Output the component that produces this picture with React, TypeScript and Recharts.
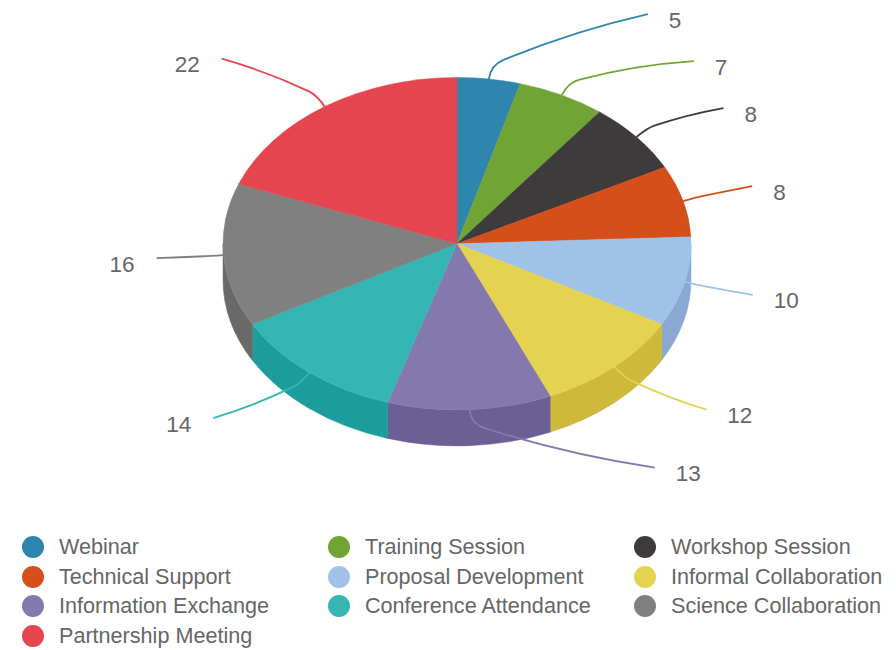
import React from "react";
import { PieChart, Pie, Legend } from "recharts";

const categories = [
  "Webinar", "Training Session", "Workshop Session", "Technical Support", "Proposal Development",
  "Informal Collaboration", "Information Exchange", "Conference Attendance", "Science Collaboration", "Partnership Meeting",
];
const values = [5, 7, 8, 8, 10, 12, 13, 14, 16, 22];
const topColors = ["#2E85AE", "#70A535", "#3D3B3C", "#D54F1B", "#A0C2E8", "#E3D350", "#8479AE", "#35B6B4", "#808080", "#E5454F"];
const wallColors = ["#28749A", "#62912E", "#353334", "#BA4517", "#8AA9D2", "#CDB93A", "#6A6096", "#1C9D9C", "#696969", "#C83C45"];
// how far each label's leader line reaches from the rim of its slice
const leaderReach: number[][] = [
  [159, -65], [132, -34], [87, -29], [69, -15], [68, 13], [92, 43], [185, 58], [-96, 45.5], [-67, 3], [-103, -48],
];

const CX = 457;
const CY = 243.7;
const RX = 234;
const RY = 166.2;
const DEPTH = 36;
const FONT = "'Liberation Sans', Arial, sans-serif";

const tableData = categories.map((name, i) => ({
  name,
  value: values[i],
  fill: topColors[i],
  wall: wallColors[i],
}));

const rad = (d: number) => (d * Math.PI) / 180;

function SliceShape(props: any) {
  const { cx, cy, outerRadius, startAngle, endAngle, fill, payload } = props;
  const rx = outerRadius;
  const ry = (outerRadius * RY) / RX;
  const pt = (a: number, dy = 0) => [cx + rx * Math.cos(rad(a)), cy - ry * Math.sin(rad(a)) + dy];
  const [sx, sy] = pt(startAngle);
  const [ex, ey] = pt(endAngle);
  const large = Math.abs(startAngle - endAngle) > 180 ? 1 : 0;
  const top = `M${cx},${cy} L${sx},${sy} A${rx},${ry} 0 ${large} 1 ${ex},${ey} Z`;

  let wallPath = "";
  const hi = Math.min(startAngle, 0);
  const lo = Math.max(endAngle, -180);
  if (hi > lo) {
    const [ax, ay] = pt(hi);
    const [bx, by] = pt(lo);
    const [cx2, cy2] = pt(lo, DEPTH);
    const [dx, dy] = pt(hi, DEPTH);
    wallPath = `M${ax},${ay} A${rx},${ry} 0 0 1 ${bx},${by} L${cx2},${cy2} A${rx},${ry} 0 0 0 ${dx},${dy} Z`;
  }
  const wall = payload?.wall ?? props.wall ?? fill;
  return (
    <g>
      {wallPath ? <path d={wallPath} fill={wall} stroke={wall} strokeWidth={0.5} /> : null}
      <path d={top} fill={fill} stroke={fill} strokeWidth={0.5} />
    </g>
  );
}

function LeaderLabel(props: any) {
  const { cx, cy, outerRadius, midAngle, index, value } = props;
  const fill = topColors[index];
  const rx = outerRadius;
  const ry = (outerRadius * RY) / RX;
  const c = Math.cos(rad(midAngle));
  const s = Math.sin(rad(midAngle));
  const x0 = cx + rx * c;
  const y0 = cy - ry * s;
  const [ox, oy] = leaderReach[index];
  const x3 = x0 + ox;
  const y3 = y0 + oy;
  const ex = x0 + c * 14;
  const ey = y0 - s * 14;
  const px = ex + (x3 - ex) * 0.08 + c * 1.2;
  const py = ey + (y3 - ey) * 0.08 - s * 1.2;
  const len = Math.hypot(x3 - px, y3 - py);
  const dl = Math.hypot(px - ex, py - ey) || 1;
  const qx = px + ((px - ex) / dl) * len * 0.5;
  const qy = py + ((py - ey) / dl) * len * 0.5;
  const d = `M${x0},${y0} Q${ex},${ey} ${px},${py} Q${qx},${qy} ${x3},${y3}`;
  const right = ox > 0;
  return (
    <g>
      <path d={d} fill="none" stroke={fill} strokeWidth={1.8} />
      <text
        x={x3 + (right ? 21 : -22)}
        y={y3 + 6}
        textAnchor={right ? "start" : "end"}
        dominantBaseline="central"
        fill="#666666"
        fontSize={22.5}
        fontFamily={FONT}
      >
        {value}
      </text>
    </g>
  );
}

function LegendGrid(props: any) {
  const items = props.payload ?? [];
  return (
    <div
      style={{
        display: "grid",
        gridTemplateColumns: "306px 306px 262px",
        gridAutoRows: "29.6px",
        paddingLeft: 22,
        fontFamily: FONT,
        fontSize: 21.6,
        color: "#666666",
      }}
    >
      {items.map((it: any) => (
        <div key={it.value} style={{ display: "flex", alignItems: "center", whiteSpace: "nowrap" }}>
          <span
            style={{
              width: 22,
              height: 22,
              borderRadius: 11,
              background: it.color,
              display: "inline-block",
              marginRight: 15,
              flex: "none",
            }}
          />
          {it.value}
        </div>
      ))}
    </div>
  );
}

export default function App() {
  return (
    <div style={{ position: "absolute", left: 0, top: 0, width: 896, height: 650, background: "#fff", overflow: "hidden" }}>
      <PieChart width={896} height={650} margin={{ top: 0, right: 0, bottom: 0, left: 0 }}>
        <Pie
          data={tableData}
          dataKey="value"
          nameKey="name"
          cx={CX}
          cy={CY}
          outerRadius={RX}
          startAngle={90}
          endAngle={-270}
          stroke="none"
          isAnimationActive={false}
          shape={SliceShape}
          label={LeaderLabel}
          labelLine={false}
          legendType="circle"
        />
        <Legend
          content={LegendGrid}
          itemSorter={null as any}
          wrapperStyle={{ position: "absolute", left: 0, top: 532.5, bottom: "auto", width: 896 }}
        />
      </PieChart>
    </div>
  );
}
